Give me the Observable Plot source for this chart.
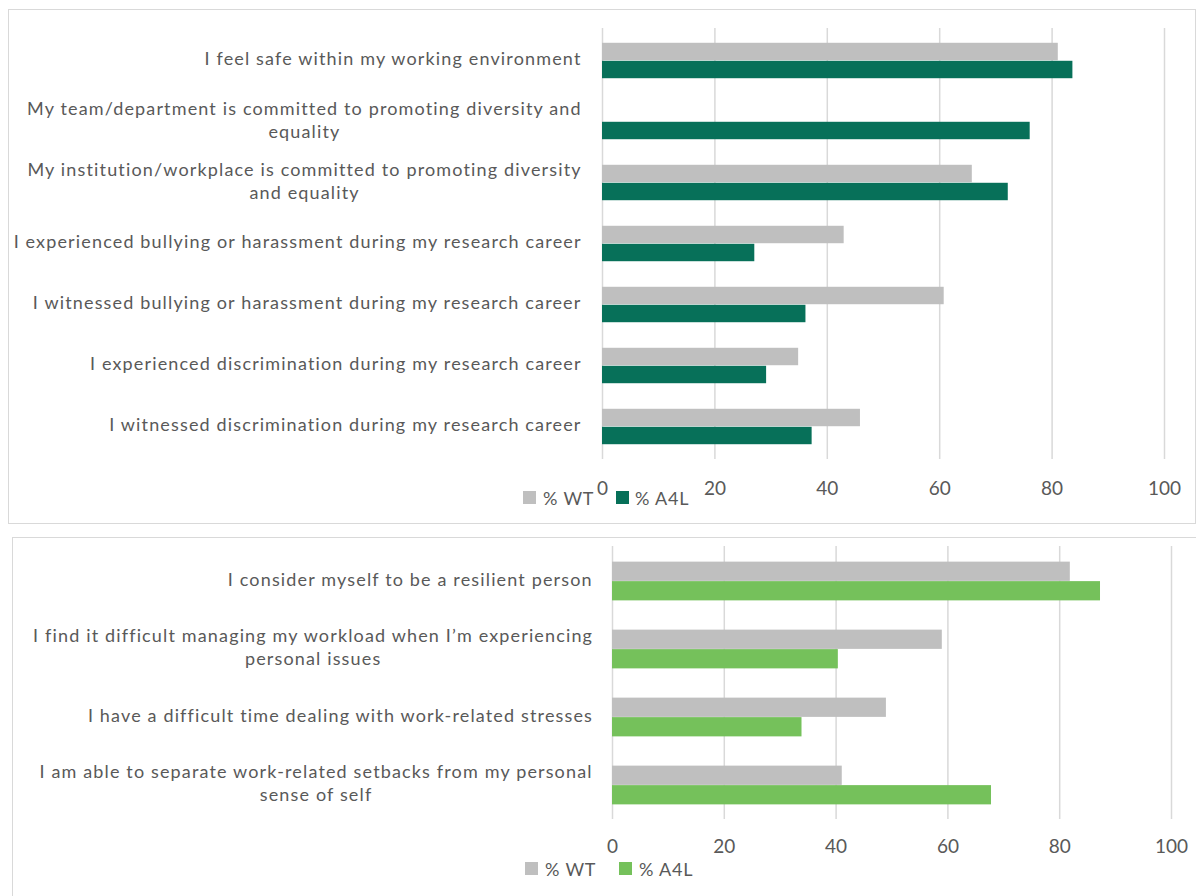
<!DOCTYPE html>
<html><head><meta charset="utf-8">
<script src="https://cdn.jsdelivr.net/npm/d3@7"></script>
<script src="https://cdn.jsdelivr.net/npm/@observablehq/plot@0.6"></script>
<style>
body{margin:0;background:#fff;width:1196px;height:896px;overflow:hidden;position:relative;font-family:Lato,sans-serif;}
.box{position:absolute;border:1.5px solid #D9D9D9;box-sizing:border-box;}
.chart{position:absolute;left:0;}
.legend{position:absolute;font-size:18px;color:#595959;height:16px;line-height:16px;white-space:nowrap;letter-spacing:0.8px;}
.sw{position:absolute;width:13px;height:13px;top:1px;}
.lt{position:absolute;top:0;}
</style></head><body>
<div class="box" style="left:8px;top:9px;width:1188px;height:515px;"></div>
<div class="box" style="left:12px;top:537px;width:1186px;height:380px;"></div>
<div id="c1" class="chart" style="top:0px;"></div>
<div id="c2" class="chart" style="top:530px;"></div>
<div class="legend" style="left:523px;top:490px;">
  <span class="sw" style="left:0;background:#BFBFBF"></span><span class="lt" style="left:20px">%&nbsp;WT</span>
  <span class="sw" style="left:93px;background:#077059"></span><span class="lt" style="left:112px">%&nbsp;A4L</span>
</div>
<div class="legend" style="left:525px;top:861px;">
  <span class="sw" style="left:0;background:#BFBFBF"></span><span class="lt" style="left:20px">%&nbsp;WT</span>
  <span class="sw" style="left:94px;background:#75C15B"></span><span class="lt" style="left:114px">%&nbsp;A4L</span>
</div>
<script>
// ---- data ----
const categoriesTop = [
  "I feel safe within my working environment",
  "My team/department is committed to promoting diversity and\nequality",
  "My institution/workplace is committed to promoting diversity\nand equality",
  "I experienced bullying or harassment during my research career",
  "I witnessed bullying or harassment during my research career",
  "I experienced discrimination during my research career",
  "I witnessed discrimination during my research career"
];
const wtTop  = [81.1, null, 65.8, 43.0, 60.8, 34.9, 45.9];
const a4lTop = [83.7, 76.1, 72.2, 27.1, 36.2, 29.2, 37.3];

const categoriesBottom = [
  "I consider myself to be a resilient person",
  "I find it difficult managing my workload when I\u2019m experiencing\npersonal issues",
  "I have a difficult time dealing with work-related stresses",
  "I am able to separate work-related setbacks from my personal\nsense of self"
];
const wtBottom  = [81.9, 59.0, 49.0, 41.1];
const a4lBottom = [87.3, 40.4, 33.9, 67.8];

const xTicks = [0, 20, 40, 60, 80, 100];
const seriesNames = ["% WT", "% A4L"];

// ---- drawing ----
const TEXT = "#595959";
const GRID = "#D9D9D9";
const LABEL_FS = 18;
const LABEL_LS = 1.15; // letter spacing, px
const TICK_FS = 19;

const canvas = document.createElement("canvas");
const ctx = canvas.getContext("2d");
function textWidth(s, fs) { ctx.font = `${fs}px Lato`; return ctx.measureText(s).width + LABEL_LS * (s.length - 1); }

function makeChart({cats, wt, a4l, color, height, marginTop, marginBottom, marginLeft, marginRight, labelGap, barH, tickPadding}) {
  const width = 1196;
  const plotW = width - marginLeft - marginRight;
  const band = (height - marginTop - marginBottom) / cats.length;
  const half = band / 2;
  const rowsWT = cats.map((c, i) => ({category: c, value: wt[i]})).filter(d => d.value != null);
  const rowsA4L = cats.map((c, i) => ({category: c, value: a4l[i]})).filter(d => d.value != null);
  const labelX = c => {
    const w = d3.max(c.split("\n"), l => textWidth(l, LABEL_FS));
    const centerPx = marginLeft - labelGap - w / 2;
    return (centerPx - marginLeft) / plotW * 100;
  };
  const svg = Plot.plot({
    width, height, marginTop, marginBottom, marginLeft, marginRight,
    style: {fontFamily: "Lato, sans-serif", color: TEXT, background: "transparent", overflow: "visible"},
    x: {domain: [0, 100]},
    y: {domain: cats, padding: 0, axis: null},
    marks: [
      Plot.gridX({ticks: xTicks, stroke: GRID, strokeOpacity: 1, strokeWidth: 1.5}),
      Plot.barX(rowsWT, {x: "value", y: "category", fill: "#BFBFBF", insetTop: half - barH, insetBottom: half}),
      Plot.barX(rowsA4L, {x: "value", y: "category", fill: color, insetTop: half, insetBottom: half - barH}),
      Plot.axisX({ticks: xTicks, tickSize: 0, tickPadding, fontSize: TICK_FS, fill: TEXT, label: null}),
      Plot.text(cats, {x: labelX, y: d => d, text: d => d, textAnchor: "middle", lineAnchor: "middle",
        lineHeight: 1.27, fontSize: LABEL_FS, fill: TEXT, dy: -3})
    ]
  });
  svg.querySelectorAll('g[aria-label="text"]').forEach(g => g.style.letterSpacing = LABEL_LS + "px");
  return svg;
}

document.getElementById("c1").append(makeChart({
  cats: categoriesTop, wt: wtTop, a4l: a4lTop, color: "#077059",
  height: 523, marginTop: 28, marginBottom: 64, marginLeft: 602, marginRight: 32,
  labelGap: 21, barH: 18, tickPadding: 22
}));
document.getElementById("c2").append(makeChart({
  cats: categoriesBottom, wt: wtBottom, a4l: a4lBottom, color: "#75C15B",
  height: 366, marginTop: 16, marginBottom: 77, marginLeft: 612, marginRight: 25,
  labelGap: 20, barH: 19.5, tickPadding: 20
}));
</script>
</body></html>
